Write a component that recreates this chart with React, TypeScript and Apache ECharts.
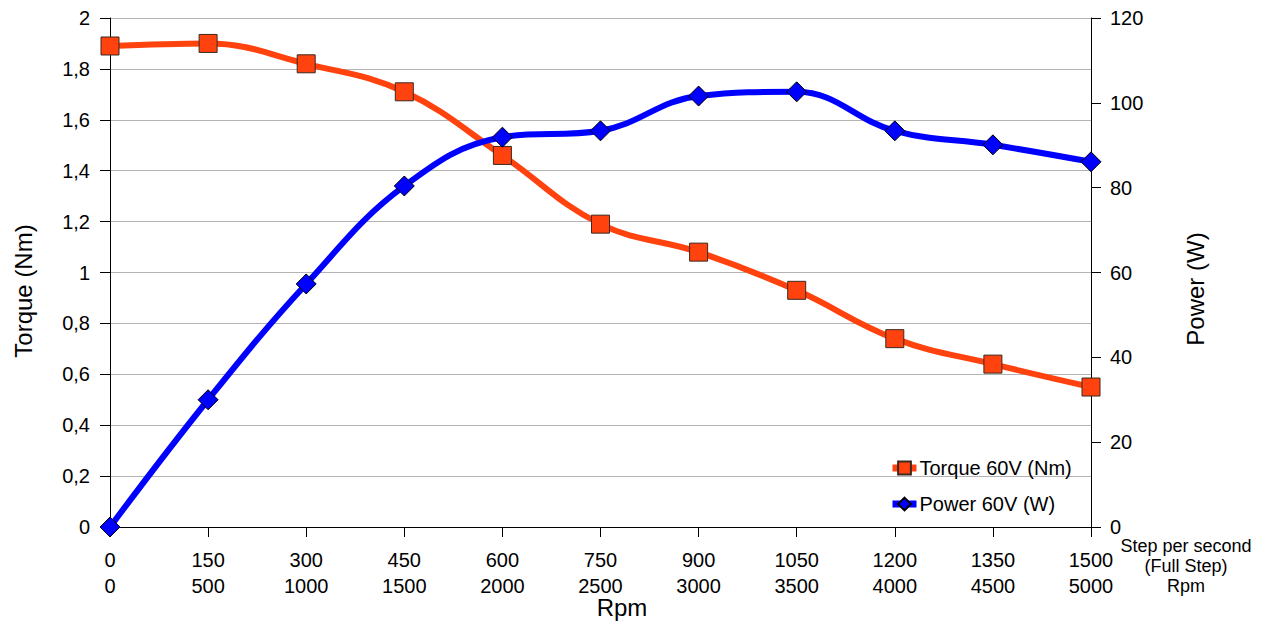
import React, { useEffect, useRef } from "react";
import * as echarts from "echarts";

const stepsPerSecond = ["0", "150", "300", "450", "600", "750", "900", "1050", "1200", "1350", "1500"];
const rpmLabels = ["0", "500", "1000", "1500", "2000", "2500", "3000", "3500", "4000", "4500", "5000"];
const torque = [1.89, 1.9, 1.82, 1.71, 1.46, 1.19, 1.08, 0.93, 0.74, 0.64, 0.55];
const power = [0, 30, 57.3, 80.4, 91.9, 93.4, 101.6, 102.6, 93.4, 90.1, 86.1];

const FONT = "'Liberation Sans', Arial, sans-serif";

export default function App() {
  const ref = useRef<HTMLDivElement>(null);
  useEffect(() => {
    if (!ref.current) return;
    const chart = echarts.init(ref.current, null, { renderer: "svg" });
    const option: any = {
      animation: false,
      backgroundColor: "#ffffff",
      textStyle: { fontFamily: FONT, color: "#000" },
      grid: { left: 110, right: 175, top: 18, bottom: 99, containLabel: false },
      legend: {
        orient: "vertical",
        left: 884,
        top: 453,
        itemWidth: 24,
        itemHeight: 16,
        itemGap: 16,
        lineStyle: { width: 7 },
        textStyle: { fontFamily: FONT, fontSize: 20, color: "#000", padding: [0, 0, 0, -2] },
        data: ["Torque 60V (Nm)", "Power 60V (W)"],
      },
      xAxis: {
        type: "category",
        boundaryGap: false,
        data: stepsPerSecond,
        axisLine: { lineStyle: { color: "#000", width: 1 } },
        axisTick: { alignWithLabel: true, length: 10, lineStyle: { color: "#000" } },
        axisLabel: {
          margin: 20,
          fontFamily: FONT,
          fontSize: 20,
          color: "#000",
          lineHeight: 26,
          formatter: (v: string, i: number) => v + "\n" + rpmLabels[i],
        },
        splitLine: { show: false },
      },
      yAxis: [
        {
          type: "value",
          min: 0,
          max: 2,
          interval: 0.2,
          position: "left",
          axisLine: { show: true, lineStyle: { color: "#000" } },
          axisTick: { show: true, length: 10, lineStyle: { color: "#000" } },
          axisLabel: {
            margin: 20,
            fontFamily: FONT,
            fontSize: 20,
            color: "#000",
            formatter: (v: number) => String(+v.toFixed(1)).replace(".", ","),
          },
          splitLine: { show: true, lineStyle: { color: "#b3b3b3", width: 1 } },
        },
        {
          type: "value",
          min: 0,
          max: 120,
          interval: 20,
          position: "right",
          axisLine: { show: true, lineStyle: { color: "#000" } },
          axisTick: { show: true, length: 10, lineStyle: { color: "#000" } },
          axisLabel: { margin: 19, fontFamily: FONT, fontSize: 20, color: "#000" },
          splitLine: { show: false },
        },
      ],
      series: [
        {
          name: "Torque 60V (Nm)",
          type: "line",
          yAxisIndex: 0,
          data: torque,
          smooth: 0.4,
          symbol: "rect",
          symbolSize: 18,
          lineStyle: { color: "#ff420e", width: 6 },
          itemStyle: { color: "#ff420e", borderColor: "#3a2a20", borderWidth: 1 },
          z: 3,
        },
        {
          name: "Power 60V (W)",
          type: "line",
          yAxisIndex: 1,
          data: power,
          smooth: 0.4,
          symbol: "diamond",
          symbolSize: 20,
          lineStyle: { color: "#0000ff", width: 6 },
          itemStyle: { color: "#0000ff", borderColor: "#000", borderWidth: 1 },
          z: 4,
        },
      ],
      graphic: [
        {
          type: "text",
          x: 23,
          y: 291,
          rotation: Math.PI / 2,
          style: {
            text: "Torque (Nm)",
            fontFamily: FONT,
            fontSize: 24,
            fill: "#000",
            textAlign: "center",
            textVerticalAlign: "middle",
          },
        },
        {
          type: "text",
          x: 1195,
          y: 289,
          rotation: Math.PI / 2,
          style: {
            text: "Power (W)",
            fontFamily: FONT,
            fontSize: 24,
            fill: "#000",
            textAlign: "center",
            textVerticalAlign: "middle",
          },
        },
        {
          type: "text",
          x: 622,
          y: 607,
          style: {
            text: "Rpm",
            fontFamily: FONT,
            fontSize: 24,
            fill: "#000",
            textAlign: "center",
            textVerticalAlign: "middle",
          },
        },
        {
          type: "text",
          x: 1186,
          y: 566,
          style: {
            text: "Step per second\n(Full Step)\nRpm",
            fontFamily: FONT,
            fontSize: 18,
            lineHeight: 20,
            fill: "#000",
            textAlign: "center",
            textVerticalAlign: "middle",
          },
        },
      ],
    };
    chart.setOption(option);
    return () => chart.dispose();
  }, []);
  return (
    <div
      ref={ref}
      style={{ position: "fixed", left: 0, top: 0, width: 1266, height: 626, background: "#fff" }}
    />
  );
}
